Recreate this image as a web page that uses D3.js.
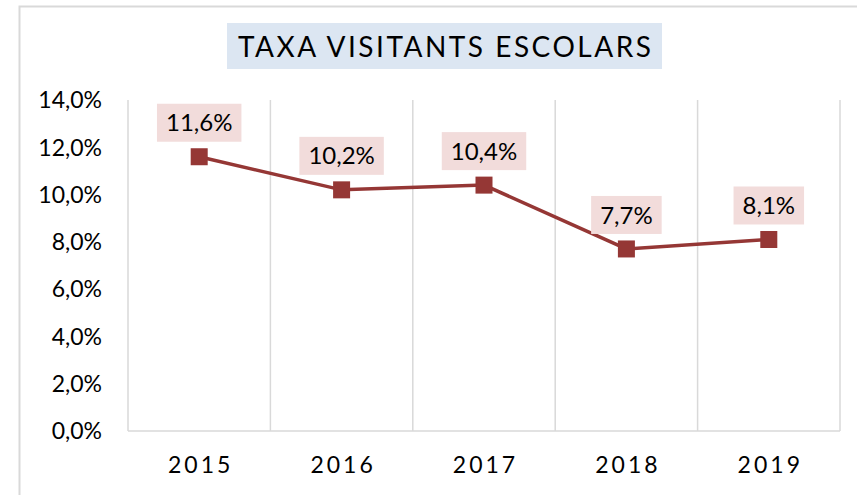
<!DOCTYPE html>
<html><head><meta charset="utf-8">
<script src="https://cdn.jsdelivr.net/npm/d3@7"></script>
<style>
body{margin:0;background:#fff;}
text{font-family:Lato,"Open Sans",sans-serif;fill:#000;}
</style></head>
<body><svg id="c" width="857" height="495"></svg>
<script>
const title = "TAXA VISITANTS ESCOLARS";
const years = ["2015","2016","2017","2018","2019"];
const rates = [11.6, 10.2, 10.4, 7.7, 8.1];
const yTicks = [0,2,4,6,8,10,12,14];

const svg = d3.select("#c");
const fmt = v => v.toFixed(1).replace(".", ",") + "%";

// outer chart border (left & top visible)
svg.append("path").attr("d","M19.5,495 V6.5 H857").attr("fill","none").attr("stroke","#d9d9d9").attr("stroke-width",2);

// title
svg.append("rect").attr("x",227).attr("y",23).attr("width",435).attr("height",46).attr("fill","#dce6f2");
svg.append("text").attr("x",444.5).attr("y",57).attr("text-anchor","middle")
  .attr("font-size",28).attr("textLength",413).attr("lengthAdjust","spacing").text(title);

const x = d3.scaleBand().domain(years).range([128,840]);
const y = d3.scaleLinear().domain([0,14]).range([431,100]);

// vertical grid lines at category boundaries
const bounds = years.map(d => x(d)).concat([x.range()[1]]);
svg.append("g").selectAll("line").data(bounds).join("line")
  .attr("x1",d=>d).attr("x2",d=>d).attr("y1",y(14)).attr("y2",y(0))
  .attr("stroke","#d9d9d9").attr("stroke-width",1.5);
// x axis line
svg.append("line").attr("x1",128).attr("x2",840).attr("y1",y(0)).attr("y2",y(0))
  .attr("stroke","#d9d9d9").attr("stroke-width",1.5);

// y tick labels
svg.append("g").selectAll("text").data(yTicks).join("text")
  .attr("x",102).attr("y",d=>y(d)).attr("dy","0.36em").attr("text-anchor","end")
  .attr("font-size",23).text(d=>fmt(d));

// x labels
svg.append("g").selectAll("text").data(years).join("text")
  .attr("x",d=>x(d)+x.bandwidth()/2+1.5).attr("y",473).attr("text-anchor","middle")
  .attr("font-size",23).attr("letter-spacing","3px").text(d=>d);

const pts = years.map((d,i)=>({year:d, v:rates[i]}));
const cx = d => x(d.year)+x.bandwidth()/2;

// line
svg.append("path").datum(pts)
  .attr("d", d3.line().x(cx).y(d=>y(d.v)))
  .attr("fill","none").attr("stroke","#953735").attr("stroke-width",3.5);

// markers
svg.append("g").selectAll("rect").data(pts).join("rect")
  .attr("x",d=>cx(d)-8.5).attr("y",d=>y(d.v)-8.5).attr("width",17).attr("height",17)
  .attr("fill","#953735");

// data labels
const lg = svg.append("g").selectAll("g").data(pts).join("g")
  .attr("transform",d=>`translate(${cx(d)},${y(d.v)-34})`);
lg.append("text").attr("text-anchor","middle").attr("dy","0.36em").attr("font-size",24)
  .text(d=>fmt(d.v));
lg.each(function(){
  const g = d3.select(this);
  const bb = g.select("text").node().getBBox();
  g.insert("rect","text").attr("x",bb.x-9).attr("y",-19).attr("width",bb.width+18).attr("height",38)
    .attr("fill","#f2dcdb");
});
</script></body></html>
